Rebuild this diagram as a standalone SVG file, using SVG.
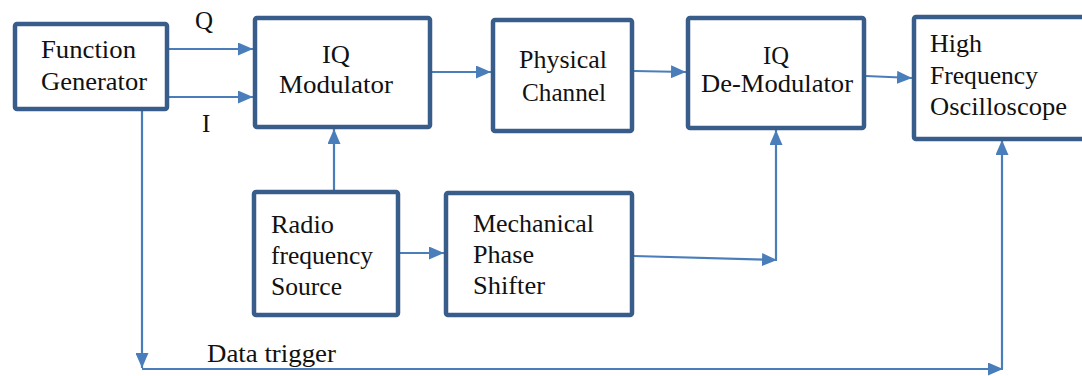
<svg xmlns="http://www.w3.org/2000/svg" width="1082" height="376" viewBox="0 0 1082 376">
<defs>
<marker id="ah" markerUnits="userSpaceOnUse" markerWidth="15" markerHeight="13" refX="15" refY="6.5" orient="auto">
<path d="M0,0 L15,6.5 L0,13 z" fill="#4A7EBB"/>
</marker>
<style>
.box{fill:#fff;stroke:#385D8A;stroke-width:4.5}
.c{fill:none;stroke:#4A7EBB;stroke-width:2.2}
.a{marker-end:url(#ah)}
text{font-family:"Liberation Serif","Times New Roman",serif;font-size:25px;fill:#111}
</style>
</defs>
<rect width="1082" height="376" fill="#fff"/>
<g id="connectors">
<line class="c a" x1="169" y1="49" x2="253" y2="49"/>
<line class="c a" x1="169" y1="97" x2="253" y2="97"/>
<line class="c a" x1="432" y1="72" x2="491" y2="72"/>
<line class="c a" x1="634" y1="71" x2="686" y2="72"/>
<line class="c a" x1="866" y1="76" x2="912" y2="78"/>
<line class="c a" x1="334" y1="190" x2="334" y2="129"/>
<line class="c a" x1="400" y1="253" x2="444" y2="253"/>
<line class="c a" x1="634" y1="256" x2="777" y2="260"/>
<line class="c a" x1="776" y1="260" x2="776" y2="130"/>
<line class="c a" x1="142" y1="111" x2="142" y2="368"/>
<line class="c a" x1="142" y1="369" x2="1003" y2="369"/>
<line class="c a" x1="1002" y1="369" x2="1002" y2="140"/>
</g>
<g id="function-generator">
<rect class="box" x="15" y="24" width="152" height="85" rx="2"/>
<text x="41" y="58" textLength="95" lengthAdjust="spacingAndGlyphs">Function</text>
<text x="41" y="90" textLength="106" lengthAdjust="spacingAndGlyphs">Generator</text>
</g>
<g id="label-q"><text x="195" y="29">Q</text></g>
<g id="label-i"><text x="202" y="132">I</text></g>
<g id="iq-modulator">
<rect class="box" x="255" y="18" width="175" height="109" rx="2"/>
<text x="322" y="63" textLength="28" lengthAdjust="spacingAndGlyphs">IQ</text>
<text x="279" y="93" textLength="114" lengthAdjust="spacingAndGlyphs">Modulator</text>
</g>
<g id="physical-channel">
<rect class="box" x="493" y="20" width="139" height="111" rx="2"/>
<text x="519" y="68" textLength="88" lengthAdjust="spacingAndGlyphs">Physical</text>
<text x="522" y="101" textLength="84" lengthAdjust="spacingAndGlyphs">Channel</text>
</g>
<g id="iq-demodulator">
<rect class="box" x="688" y="18" width="176" height="110" rx="2"/>
<text x="763" y="64" textLength="26" lengthAdjust="spacingAndGlyphs">IQ</text>
<text x="701" y="92" textLength="152" lengthAdjust="spacingAndGlyphs">De-Modulator</text>
</g>
<g id="oscilloscope">
<rect class="box" x="914" y="17" width="200" height="122" rx="2"/>
<text x="930" y="52" textLength="52" lengthAdjust="spacingAndGlyphs">High</text>
<text x="930" y="84" textLength="108" lengthAdjust="spacingAndGlyphs">Frequency</text>
<text x="930" y="115" textLength="137" lengthAdjust="spacingAndGlyphs">Oscilloscope</text>
</g>
<g id="rf-source">
<rect class="box" x="254" y="192" width="144" height="123" rx="2"/>
<text x="271" y="233" textLength="63" lengthAdjust="spacingAndGlyphs">Radio</text>
<text x="271" y="264" textLength="102" lengthAdjust="spacingAndGlyphs">frequency</text>
<text x="271" y="295" textLength="71" lengthAdjust="spacingAndGlyphs">Source</text>
</g>
<g id="phase-shifter">
<rect class="box" x="446" y="193" width="186" height="122" rx="2"/>
<text x="473" y="232" textLength="121" lengthAdjust="spacingAndGlyphs">Mechanical</text>
<text x="473" y="263" textLength="61" lengthAdjust="spacingAndGlyphs">Phase</text>
<text x="473" y="294" textLength="72" lengthAdjust="spacingAndGlyphs">Shifter</text>
</g>
<g id="label-data-trigger"><text x="207" y="362" textLength="129" lengthAdjust="spacingAndGlyphs">Data trigger</text></g>
</svg>
